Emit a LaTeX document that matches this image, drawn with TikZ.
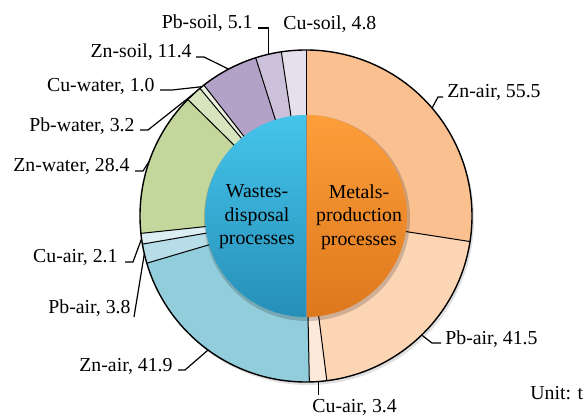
\documentclass[tikz,border=0pt]{standalone}
\usepackage{fontspec}
\setmainfont{Liberation Serif}
\usetikzlibrary{calc}
\definecolor{metalszn}{rgb}{0.98,0.753,0.565}
\definecolor{metalspb}{rgb}{0.988,0.835,0.71}
\definecolor{metalscu}{rgb}{0.992,0.914,0.851}
\definecolor{airzn}{rgb}{0.573,0.804,0.863}
\definecolor{airpb}{rgb}{0.718,0.871,0.91}
\definecolor{aircu}{rgb}{0.855,0.933,0.953}
\definecolor{waterzn}{rgb}{0.765,0.839,0.608}
\definecolor{waterpb}{rgb}{0.843,0.894,0.741}
\definecolor{watercu}{rgb}{0.922,0.945,0.871}
\definecolor{soilzn}{rgb}{0.702,0.635,0.78}
\definecolor{soilpb}{rgb}{0.8,0.757,0.855}
\definecolor{soilcu}{rgb}{0.898,0.878,0.925}
\definecolor{bluehi}{rgb}{0.27,0.77,0.92}
\definecolor{bluelo}{rgb}{0.15,0.56,0.72}
\definecolor{orangehi}{rgb}{0.99,0.62,0.23}
\definecolor{orangelo}{rgb}{0.87,0.47,0.11}

\begin{document}
\begin{tikzpicture}[
  x=0.5pt, y=0.5pt,
  every node/.style={font=\fontsize{9.9}{11.75}\selectfont},
  lbl/.style={inner sep=0pt},
  centretext/.style={align=center, inner sep=0pt},
  leader/.style={-, line width=0.6pt, black},
  wedgeline/.style={line width=0.5pt, black},
  rim/.style={line width=0.7pt, black},
]
\useasboundingbox (0,0) rectangle (585,418);
\coordinate (ctr) at (306,202);

\begin{scope}[shift={(ctr)}]
% ---- soft shadow under the ring ----
\fill[black, opacity=0.12] (2,-3) circle[radius=166];
% ---- metals production (right half) ----
\fill[metalszn] (0,0) -- (90:166) arc[start angle=90, end angle=-8.862, radius=166] -- cycle;
\fill[metalspb] (0,0) -- (-8.862:166) arc[start angle=-8.862, end angle=-82.786, radius=166] -- cycle;
\fill[metalscu] (0,0) -- (-82.786:166) arc[start angle=-82.786, end angle=-88.842, radius=166] -- cycle;
% ---- wastes disposal (left half) ----
\fill[airzn] (0,0) -- (-88.842:166) arc[start angle=-88.842, end angle=-163.478, radius=166] -- cycle;
\fill[airpb] (0,0) -- (-163.478:166) arc[start angle=-163.478, end angle=-170.247, radius=166] -- cycle;
\fill[aircu] (0,0) -- (-170.247:166) arc[start angle=-170.247, end angle=-173.988, radius=166] -- cycle;
\fill[waterzn] (0,0) -- (-173.988:166) arc[start angle=-173.988, end angle=-224.577, radius=166] -- cycle;
\fill[waterpb] (0,0) -- (-224.577:166) arc[start angle=-224.577, end angle=-230.277, radius=166] -- cycle;
\fill[watercu] (0,0) -- (-230.277:166) arc[start angle=-230.277, end angle=-232.058, radius=166] -- cycle;
\fill[soilzn] (0,0) -- (-232.058:166) arc[start angle=-232.058, end angle=-252.365, radius=166] -- cycle;
\fill[soilpb] (0,0) -- (-252.365:166) arc[start angle=-252.365, end angle=-261.450, radius=166] -- cycle;
\fill[soilcu] (0,0) -- (-261.450:166) arc[start angle=-261.450, end angle=-270, radius=166] -- cycle;

% ---- wedge borders and outer rim ----
\draw[wedgeline] (0,0) -- (90:166);
\draw[wedgeline] (0,0) -- (-8.862:166);
\draw[wedgeline] (0,0) -- (-82.786:166);
\draw[wedgeline] (0,0) -- (-88.842:166);
\draw[wedgeline] (0,0) -- (-163.478:166);
\draw[wedgeline] (0,0) -- (-170.247:166);
\draw[wedgeline] (0,0) -- (-173.988:166);
\draw[wedgeline] (0,0) -- (-224.577:166);
\draw[wedgeline] (0,0) -- (-230.277:166);
\draw[wedgeline] (0,0) -- (-232.058:166);
\draw[wedgeline] (0,0) -- (-252.365:166);
\draw[wedgeline] (0,0) -- (-261.450:166);
\draw[rim] (0,0) circle[radius=166];

% ---- inner pie: two halves ----
\fill[black, opacity=0.18] (1,-2) circle[radius=103];
\shade[top color=bluehi, bottom color=bluelo] (90:101) arc[start angle=90, end angle=270, radius=101] -- cycle;
\shade[top color=orangehi, bottom color=orangelo] (90:101) arc[start angle=90, end angle=-90, radius=101] -- cycle;
\draw[line width=0.3pt, black!45] (90:101) -- (-90:101);

% ---- leader targets, mid-angle of each wedge on the rim ----
\coordinate (pZnAirM) at (40.569:166);
\coordinate (pPbAirM) at (-45.824:166);
\coordinate (pCuAirM) at (-85.814:166);
\coordinate (pZnAirW) at (-126.160:166);
\coordinate (pPbAirW) at (-166.863:166);
\coordinate (pCuAirW) at (-172.118:166);
\coordinate (pZnWater) at (160.717:166);
\coordinate (pPbWater) at (132.573:166);
\coordinate (pCuWater) at (128.833:166);
\coordinate (pZnSoil) at (117.789:166);
\coordinate (pPbSoil) at (103.093:166);
\end{scope}

% ---- centre texts ----
\node[centretext] (wastes) at (257,201) {Wastes-\\disposal\\processes};
\node[centretext] (metals) at (359,201) {Metals-\\production\\processes};

% ---- labels, right side ----
\node[lbl, anchor=base west] (lZnAirM) at (447,320) {Zn-air, 55.5};
\node[lbl, anchor=base west] (lPbAirM) at (445,73) {Pb-air, 41.5};
\node[lbl, anchor=base west] (lCuAirM) at (312,5) {Cu-air, 3.4};
\node[lbl, anchor=base west] (lCuSoil) at (283,388) {Cu-soil, 4.8};
% ---- labels, left side ----
\node[lbl, anchor=base east] (lZnAirW) at (173,46) {Zn-air, 41.9};
\node[lbl, anchor=base east] (lPbAirW) at (131,104) {Pb-air, 3.8};
\node[lbl, anchor=base east] (lCuAirW) at (118,155) {Cu-air, 2.1};
\node[lbl, anchor=base east] (lZnWater) at (130,246) {Zn-water, 28.4};
\node[lbl, anchor=base east] (lPbWater) at (135,286) {Pb-water, 3.2};
\node[lbl, anchor=base east] (lCuWater) at (155,326) {Cu-water, 1.0};
\node[lbl, anchor=base east] (lZnSoil) at (192,360) {Zn-soil, 11.4};
\node[lbl, anchor=base east] (lPbSoil) at (253,389) {Pb-soil, 5.1};
% ---- unit note ----
\node[lbl, anchor=base west] (unit) at (530,18) {Unit: t};

% ---- leader lines ----
\draw[leader] ([shift={(-4,1)}]lZnAirM.base west) -- ++(-5,0) -- (pZnAirM);
\draw[leader] ([shift={(-4,2)}]lPbAirM.base west) -- ++(-9,0) -- (pPbAirM);
\draw[leader] (pCuAirM) -- ($(pCuAirM |- lCuAirM.north)+(0,4)$);
\draw[leader] ([shift={(5,2)}]lZnAirW.base east) -- ++(7,0) -- (pZnAirW);
\draw[leader] ([shift={(3,-3)}]lPbAirW.base east) -- (pPbAirW);
\draw[leader] ([shift={(7,1)}]lCuAirW.base east) -- ++(8,0) -- (pCuAirW);
\draw[leader] ([shift={(5,1)}]lZnWater.base east) -- ++(8,0) -- (pZnWater);
\draw[leader] ([shift={(5,2)}]lPbWater.base east) -- ++(8,0) -- (pPbWater);
\draw[leader] ([shift={(5,2)}]lCuWater.base east) -- ++(12,0) -- (pCuWater);
\draw[leader] ([shift={(4,1)}]lZnSoil.base east) -- ++(8,0) -- (pZnSoil);
\draw[leader] ([shift={(5,1)}]lPbSoil.base east) -| (pPbSoil);

\end{tikzpicture}
\end{document}
